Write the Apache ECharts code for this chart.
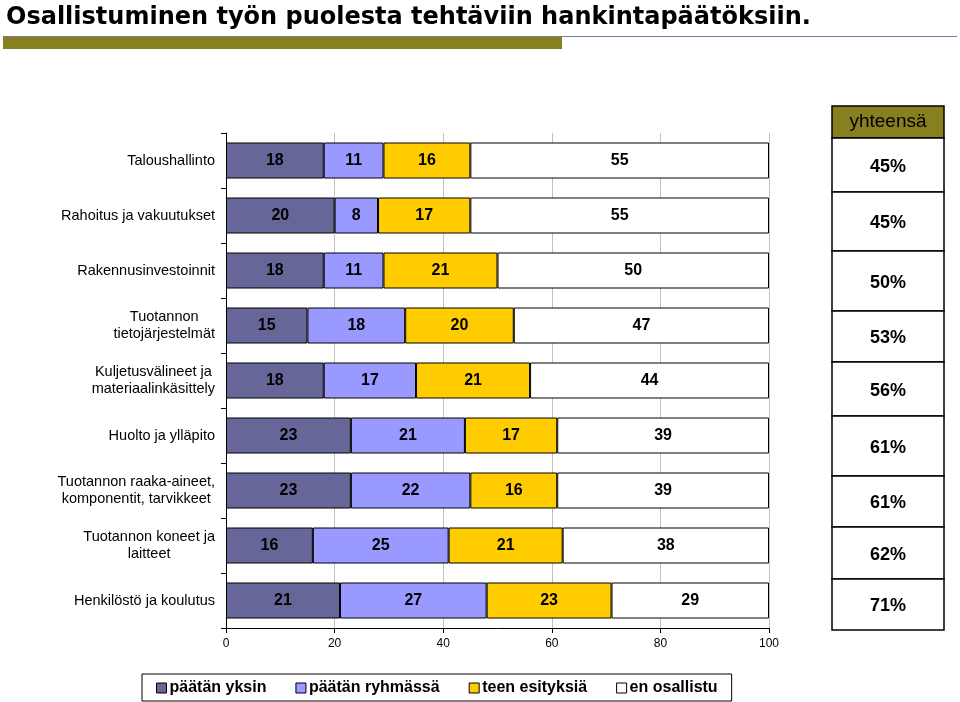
<!DOCTYPE html>
<html>
<head>
<meta charset="utf-8">
<script src="https://cdn.jsdelivr.net/npm/echarts@6/dist/echarts.min.js"></script>
<style>html,body{margin:0;padding:0;background:#fff;}#c{width:960px;height:702px;}</style>
</head>
<body>
<div id="c"></div>
<script>
var titleText = 'Osallistuminen työn puolesta tehtäviin hankintapäätöksiin.';
var categories = [
  'Taloushallinto',
  'Rahoitus ja vakuutukset',
  'Rakennusinvestoinnit',
  'Tuotannon\ntietojärjestelmät',
  'Kuljetusvälineet ja\nmateriaalinkäsittely',
  'Huolto ja ylläpito',
  'Tuotannon raaka-aineet,\nkomponentit, tarvikkeet',
  'Tuotannon koneet ja\nlaitteet',
  'Henkilöstö ja koulutus'
];
var seriesNames = ['päätän yksin', 'päätän ryhmässä', 'teen esityksiä', 'en osallistu'];
var paatanYksin    = [18, 20, 18, 15, 18, 23, 23, 16, 21];
var paatanRyhmassa = [11,  8, 11, 18, 17, 21, 22, 25, 27];
var teenEsityksia  = [16, 17, 21, 20, 21, 17, 16, 21, 23];
var enOsallistu    = [55, 55, 50, 47, 44, 39, 39, 38, 29];
var totalHeader = 'yhteensä';
var totals = ['45%', '45%', '50%', '53%', '56%', '61%', '61%', '62%', '71%'];

var colors = ['#666699', '#9999FF', '#FFCC00', '#FFFFFF'];
var olive = '#86801f';
var FONT = '"Liberation Sans", Arial, sans-serif';

var chart = echarts.init(document.getElementById('c'), null, {renderer: 'canvas'});

var seriesData = [paatanYksin, paatanRyhmassa, teenEsityksia, enOsallistu];
var series = seriesNames.map(function (n, i) {
  return {
    name: n,
    type: 'bar',
    stack: 'total',
    barWidth: 36,
    data: seriesData[i],
    itemStyle: {color: colors[i], borderColor: '#000', borderWidth: 1},
    label: {
      show: true, position: 'inside', color: '#000',
      fontFamily: FONT, fontSize: 16, fontWeight: 'bold'
    },
    emphasis: {disabled: true}
  };
});

// right-hand table (row boundaries as drawn in the reference)
var tableX = 832, tableW = 112;
var rowEdges = [106, 138, 192, 251, 311, 362, 416, 476, 527, 579, 630];
var graphics = [
  {type: 'rect', shape: {x: 3, y: 36, width: 954, height: 1}, style: {fill: '#7a7aa8'}},
  {type: 'rect', shape: {x: 3, y: 37, width: 559, height: 12}, style: {fill: olive}}
];
graphics.push({type: 'rect', shape: {x: tableX, y: rowEdges[0], width: tableW, height: rowEdges[1] - rowEdges[0]},
  style: {fill: olive, stroke: '#000', lineWidth: 1.5}});
graphics.push({type: 'text', x: tableX + tableW / 2, y: (rowEdges[0] + rowEdges[1]) / 2,
  style: {text: totalHeader, fill: '#000', font: '19px ' + FONT, align: 'center', verticalAlign: 'middle'}});
totals.forEach(function (t, i) {
  var y0 = rowEdges[i + 1], y1 = rowEdges[i + 2];
  graphics.push({type: 'rect', shape: {x: tableX, y: y0, width: tableW, height: y1 - y0},
    style: {fill: '#fff', stroke: '#000', lineWidth: 1.5}});
  graphics.push({type: 'text', x: tableX + tableW / 2, y: (y0 + y1) / 2 + 2,
    style: {text: t, fill: '#000', font: 'bold 18px ' + FONT, align: 'center', verticalAlign: 'middle'}});
});

chart.setOption({
  animation: false,
  backgroundColor: '#fff',
  title: {
    text: titleText, left: 1, top: 1,
    textStyle: {fontFamily: '"DejaVu Sans", Verdana, sans-serif', fontWeight: 'bold', fontSize: 24, color: '#000'}
  },
  grid: {left: 226, right: 191, top: 133, bottom: 74, containLabel: false},
  xAxis: {
    type: 'value', min: 0, max: 100, interval: 20,
    axisLine: {show: true, lineStyle: {color: '#000', width: 1}},
    axisTick: {show: true, length: 5, lineStyle: {color: '#000'}},
    axisLabel: {color: '#000', fontFamily: FONT, fontSize: 12, margin: 10},
    splitLine: {show: true, lineStyle: {color: '#c0c0c0', width: 1}}
  },
  yAxis: {
    type: 'category', inverse: true, data: categories,
    axisLine: {show: true, lineStyle: {color: '#000', width: 1}},
    axisTick: {show: true, length: 5, lineStyle: {color: '#000'}},
    axisLabel: {
      color: '#000', fontFamily: FONT, fontSize: 14.5, margin: 11, lineHeight: 17,
      formatter: function (v) {
        return v.split('\n').map(function (l) { return '{c|' + l + '}'; }).join('\n');
      },
      rich: {c: {align: 'center', fontFamily: FONT, fontSize: 14.5, color: '#000', lineHeight: 17}}
    }
  },
  legend: {
    data: seriesNames, left: 142, top: 674,
    orient: 'horizontal',
    itemWidth: 10, itemHeight: 10, itemGap: 29,
    icon: 'rect',
    padding: [6, 14, 5, 14],
    borderColor: '#000', borderWidth: 1,
    itemStyle: {borderColor: '#000', borderWidth: 1},
    textStyle: {fontFamily: FONT, fontSize: 16, fontWeight: 'bold', color: '#000', padding: [0, 0, 0, -2]},
    selectedMode: false
  },
  graphic: graphics,
  series: series
});
</script>
</body>
</html>
